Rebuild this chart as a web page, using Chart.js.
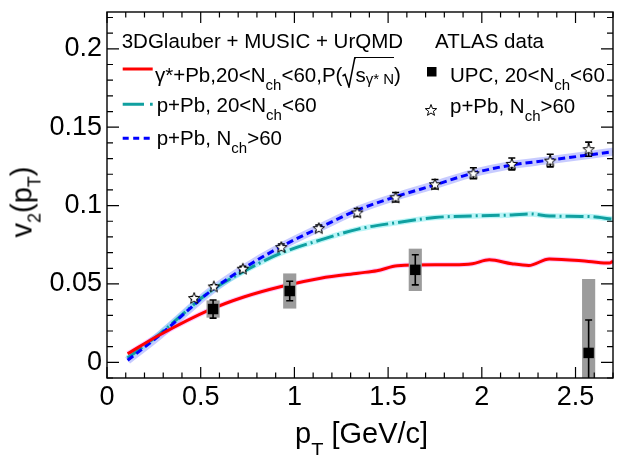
<!DOCTYPE html>
<html><head><meta charset="utf-8">
<script src="https://cdn.jsdelivr.net/npm/chart.js@4/dist/chart.umd.min.js"></script>
<style>
html,body{margin:0;padding:0;background:#fff;}
#wrap{position:relative;width:628px;height:455px;overflow:hidden;font-family:"Liberation Sans",Arial,sans-serif;color:#000;}
#c{position:absolute;left:0;top:0;}
.t{position:absolute;white-space:nowrap;line-height:1;font-size:20.5px;}
.s{font-size:15px;position:relative;top:8px;}
.s2{font-size:15px;position:relative;top:2px;}
.rad{display:inline-block;position:relative;width:13px;height:1px;}
.rad svg{position:absolute;left:0;bottom:-6px;}
.ov{border-top:1.5px solid #000;padding-top:5px;}
.ax{position:absolute;white-space:nowrap;line-height:1;font-size:29px;}
.as{font-size:18px;position:relative;top:9px;}
.as2{font-size:20px;position:relative;top:14px;}
</style></head>
<body><div id="wrap"><canvas id="c" width="628" height="455"></canvas>
<div class="t" style="left:121.7px;top:31px">3DGlauber + MUSIC + UrQMD</div>
<div class="t" style="left:435px;top:31px">ATLAS data</div>
<div class="t" style="left:155px;top:65.3px">γ*+Pb,20&lt;N<span class="s">ch</span>&lt;60,P(<span class="rad"><svg width="14" height="31" viewBox="0 0 14 31"><path d="M0.5,19 L3,17.5 L7,30 L12.8,0.75 L14,0.75" fill="none" stroke="#000" stroke-width="1.5"/></svg></span><span class="ov">s<span class="s2">γ* N</span></span>)</div>
<div class="t" style="left:450px;top:65.3px">UPC, 20&lt;N<span class="s">ch</span>&lt;60</div>
<div class="t" style="left:156.7px;top:95px">p+Pb, 20&lt;N<span class="s">ch</span>&lt;60</div>
<div class="t" style="left:450px;top:96px">p+Pb, N<span class="s">ch</span>&gt;60</div>
<div class="t" style="left:156.7px;top:127.7px">p+Pb, N<span class="s">ch</span>&gt;60</div>
<div class="ax" style="left:21.5px;top:202px;transform:translate(-50%,-50%) rotate(-90deg)">v<span class="as">2</span>(p<span class="as">T</span>)</div>
<div class="ax" style="left:295px;top:418.8px">p<span class="as2">T</span> [GeV/c]</div>
</div>
<script>
// ---- data ----
const redX  = [0.11, 0.28, 0.55, 0.73, 0.93, 1.14, 1.34, 1.44, 1.55, 1.75, 1.85, 1.95, 2.04, 2.16, 2.25, 2.36, 2.57, 2.68, 2.70];
const redY  = [0.0055, 0.0174, 0.0336, 0.0417, 0.0484, 0.0537, 0.0569, 0.0584, 0.0616, 0.0622, 0.0622, 0.0629, 0.0654, 0.0629, 0.0618, 0.0659, 0.0644, 0.0633, 0.0645];
const tealX = [0.11, 0.28, 0.55, 0.73, 0.93, 1.14, 1.34, 1.55, 1.75, 1.95, 2.16, 2.26, 2.36, 2.57, 2.70];
const tealY = [0.0028, 0.0180, 0.0452, 0.0580, 0.0697, 0.0781, 0.0850, 0.0892, 0.0924, 0.0934, 0.0940, 0.0947, 0.0934, 0.0930, 0.0913];
const blueX = [0.11, 0.28, 0.55, 0.73, 0.93, 1.14, 1.34, 1.55, 1.75, 1.95, 2.16, 2.36, 2.57, 2.70];
const blueY = [0.0013, 0.0172, 0.0452, 0.0600, 0.0739, 0.0862, 0.0973, 0.1060, 0.1132, 0.1206, 0.1259, 0.1290, 0.1323, 0.1344];

const upcX    = [0.566, 0.975, 1.645, 2.57];
const upcY    = [0.0340, 0.0455, 0.0590, 0.0060];
const upcStat = [0.0058, 0.0062, 0.0096, 0.0210];
const upcSys  = [0.0053, 0.0110, 0.0133, 0.0470];

const starX    = [0.465, 0.57, 0.725, 0.93, 1.13, 1.335, 1.54, 1.75, 1.955, 2.16, 2.365, 2.57];
const starY    = [0.0410, 0.0484, 0.0597, 0.0735, 0.0856, 0.0956, 0.1053, 0.1136, 0.1206, 0.1266, 0.1287, 0.1360];
const starStat = [0.0010, 0.0010, 0.0015, 0.0020, 0.0020, 0.0025, 0.0030, 0.0030, 0.0035, 0.0038, 0.0040, 0.0045];

const xTickLabels = [0, 0.5, 1, 1.5, 2, 2.5];
const yTickLabels = [0, 0.05, 0.1, 0.15, 0.2];
const xRange = [0, 2.7];
const yRange = [-0.01, 0.2235];

// ---- helpers ----
const pts = (xs, ys) => xs.map((x, i) => ({x, y: ys[i]}));
function makeStar(r){
  const s = Math.ceil(2*r + 4), c = document.createElement('canvas');
  c.width = s; c.height = s;
  const g = c.getContext('2d'), cx = s/2, cy = s/2 + 0.5;
  g.beginPath();
  for (let i = 0; i < 10; i++){
    const a = -Math.PI/2 + i*Math.PI/5, rr = i % 2 ? r*0.42 : r;
    g.lineTo(cx + rr*Math.cos(a), cy + rr*Math.sin(a));
  }
  g.closePath(); g.fillStyle = '#fff'; g.fill();
  g.lineWidth = 1; g.strokeStyle = '#000'; g.stroke();
  return c;
}
const starImg = makeStar(6);

const errPlugin = {
  id: 'errs',
  beforeDatasetDraw(chart, args){
    const ds = chart.data.datasets[args.index];
    if (!ds.errs) return;
    const {ctx, chartArea: a, scales: {x, y}} = chart;
    ctx.save();
    ctx.beginPath(); ctx.rect(a.left, a.top, a.right - a.left, a.bottom - a.top); ctx.clip();
    ctx.strokeStyle = '#000'; ctx.lineWidth = 1.6;
    ds.errs.x.forEach((xv, i) => {
      const px = x.getPixelForValue(xv);
      const lo = y.getPixelForValue(ds.errs.y[i] - ds.errs.e[i]);
      const hi = y.getPixelForValue(ds.errs.y[i] + ds.errs.e[i]);
      ctx.beginPath();
      ctx.moveTo(px, lo); ctx.lineTo(px, hi);
      ctx.moveTo(px - 3.5, lo); ctx.lineTo(px + 3.5, lo);
      ctx.moveTo(px - 3.5, hi); ctx.lineTo(px + 3.5, hi);
      ctx.stroke();
    });
    ctx.restore();
  }
};

const framePlugin = {
  id: 'frame',
  afterDatasetsDraw(chart){
    const {ctx, chartArea: a, scales: {x, y}} = chart;
    ctx.save();
    ctx.strokeStyle = '#000'; ctx.lineWidth = 1.4;
    ctx.strokeRect(a.left, a.top, a.right - a.left, a.bottom - a.top);
    ctx.lineWidth = 1.2;
    ctx.beginPath();
    for (let k = 0; k <= 27; k++){
      const v = k/10, px = x.getPixelForValue(v);
      const major = (k % 5 === 0), L = major ? 11 : 5.5;
      ctx.moveTo(px, a.bottom); ctx.lineTo(px, a.bottom - L);
      ctx.moveTo(px, a.top); ctx.lineTo(px, a.top + L);
    }
    for (let k = -1; k <= 22; k++){
      const v = k/100, py = y.getPixelForValue(v);
      const major = (k % 5 === 0), L = major ? 12 : 6;
      ctx.moveTo(a.left, py); ctx.lineTo(a.left + L, py);
      ctx.moveTo(a.right, py); ctx.lineTo(a.right - L, py);
    }
    ctx.stroke();
    ctx.restore();
  },
  afterDraw(chart){
    const ctx = chart.ctx;
    ctx.save();
    ctx.lineWidth = 3;
    ctx.strokeStyle = '#ff0000';
    ctx.beginPath(); ctx.moveTo(122.7, 69); ctx.lineTo(152.7, 69); ctx.stroke();
    ctx.strokeStyle = '#10a0a0';
    ctx.beginPath(); ctx.moveTo(122.7, 104.3); ctx.lineTo(144, 104.3); ctx.moveTo(150, 104.3); ctx.lineTo(152.7, 104.3); ctx.stroke();
    ctx.strokeStyle = '#0000ff';
    ctx.setLineDash([6, 4.5]);
    ctx.beginPath(); ctx.moveTo(122.7, 138.3); ctx.lineTo(150, 138.3); ctx.stroke();
    ctx.setLineDash([]);
    ctx.fillStyle = '#000';
    ctx.fillRect(427, 67, 9.5, 9.5);
    ctx.drawImage(starImg, 431 - starImg.width/2, 110 - starImg.height/2);
    ctx.restore();
  }
};

const lineCommon = {type: 'line', pointRadius: 0, cubicInterpolationMode: 'monotone', fill: false};

new Chart(document.getElementById('c'), {
  type: 'scatter',
  data: {
    datasets: [
      {type: 'scatter', data: pts(upcX, upcY), pointStyle: 'rect', pointRadius: 7.4, backgroundColor: '#000', borderWidth: 0, order: 0,
       errs: {x: upcX, y: upcY, e: upcStat}},
      {type: 'scatter', data: pts(starX, starY), pointStyle: starImg, order: 1,
       errs: {x: starX, y: starY, e: starStat}},
      {type: 'bar', data: upcX.map((x, i) => ({x, y: [upcY[i] - upcSys[i], upcY[i] + upcSys[i]]})),
       backgroundColor: '#9c9c9c', borderWidth: 0, barThickness: 12.5, grouped: false, order: 2},
      {...lineCommon, data: pts(redX, redY), borderColor: '#ff0000', borderWidth: 3, order: 3},
      {...lineCommon, data: pts(blueX, blueY), borderColor: '#0000ff', borderWidth: 3, borderDash: [7, 4], order: 4},
      {...lineCommon, data: pts(tealX, tealY), borderColor: '#10a0a0', borderWidth: 3, borderDash: [18, 4, 2, 4], order: 5},
      {...lineCommon, data: pts(redX, redY), borderColor: 'rgba(255,60,255,0.3)', borderWidth: 5, order: 6},
      {...lineCommon, data: pts(tealX, tealY), borderColor: 'rgba(80,230,235,0.4)', borderWidth: 5.5, order: 7},
      {...lineCommon, data: pts(blueX, blueY), borderColor: 'rgba(130,140,255,0.45)', borderWidth: 8, order: 8}
    ]
  },
  options: {
    responsive: false, animation: false, events: [],
    devicePixelRatio: 1,
    layout: {padding: {left: 0, top: 12, right: 15, bottom: 0}},
    plugins: {legend: {display: false}, tooltip: {enabled: false}},
    scales: {
      x: {
        type: 'linear', min: xRange[0], max: xRange[1], offset: false,
        grid: {display: false, drawTicks: false}, border: {display: false},
        afterBuildTicks: s => { s.ticks = xTickLabels.map(v => ({value: v})); },
        afterFit: s => { s.height = 77; s.paddingLeft = 0; s.paddingRight = 0; },
        ticks: {autoSkip: false, maxRotation: 0, padding: 3, color: '#000',
                font: {family: '"Liberation Sans", Arial, sans-serif', size: 27},
                callback: v => String(v)}
      },
      y: {
        type: 'linear', min: yRange[0], max: yRange[1],
        grid: {display: false, drawTicks: false}, border: {display: false},
        afterBuildTicks: s => { s.ticks = yTickLabels.map(v => ({value: v})); },
        afterFit: s => { s.width = 107; s.paddingTop = 0; s.paddingBottom = 0; },
        ticks: {autoSkip: false, padding: 5, color: '#000',
                font: {family: '"Liberation Sans", Arial, sans-serif', size: 27},
                callback: v => String(v)}
      }
    }
  },
  plugins: [errPlugin, framePlugin]
});
</script>
</body></html>
